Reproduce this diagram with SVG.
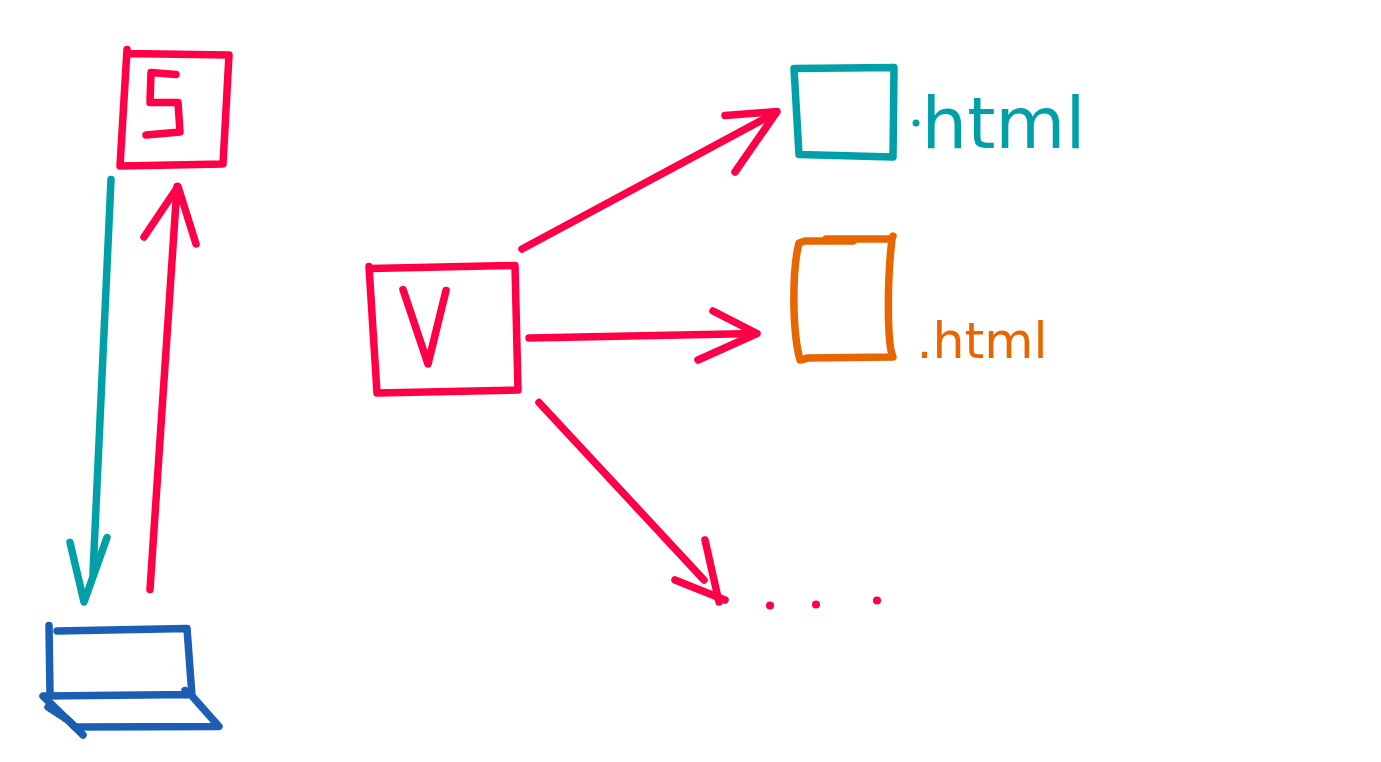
<svg xmlns="http://www.w3.org/2000/svg" width="1381" height="762" viewBox="0 0 1381 762">
<style>
path{fill:none;stroke-width:7.5;stroke-linecap:round;stroke-linejoin:round}
.r{stroke:#ff0048}
.t{stroke:#00a0a8}
.o{stroke:#e86500}
.b{stroke:#1b5eb4}
text{font-family:"DejaVu Sans",sans-serif}
</style>
<rect width="1381" height="762" fill="#fff"/>
<g id="connectors">
<path class="t" d="M111 179.500L93 573.500"/>
<path class="t" d="M70 542.500L84 602L107 537.500"/>
<path class="r" d="M150 589.500L177 186.500"/>
<path class="r" d="M144 237L178 186.500L196 244"/>
<path class="r" d="M522 249L776 112.500"/>
<path class="r" d="M725 115.500L777 111.500L735 172"/>
<path class="r" d="M529 338L756 333.500"/>
<path class="r" d="M713 311L757 333.500L698 360"/>
<path class="r" d="M539 402.500L704 580"/>
<path class="r" d="M705 540L719 602"/>
<path class="r" d="M675 580L725 600"/>
</g>
<g id="node-s">
<path class="r" d="M127 49.500L120 166L223 164L229 55L127 53.500"/>
<path class="r" d="M176 74.500L151 72.500L150 102.500L178 102.500L180 132L146 135"/>
</g>
<g id="node-v">
<path class="r" d="M369 266.500L377 393L518 390L515 265.500L370 268.500"/>
<path class="r" d="M403 289.500L428 364L446 290.500"/>
</g>
<g id="node-html-teal">
<path class="t" d="M794 68.500L799 154.500L893 157L894 67.500Z"/>
<circle cx="916" cy="123" r="3.500" fill="#00a0a8"/>
<text x="921.500" y="148" font-size="72" fill="#00a0a8">html</text>
</g>
<g id="node-html-orange">
<path class="o" d="M893 236L892 239L826 239M853 241L805 241L799 243C792 270 792 330 800 360L808 358L893 357C887 345 887 280 892 239"/>
<text x="916.500" y="358" font-size="50.500" fill="#e86500">.html</text>
</g>
<g id="node-dots">
<circle cx="770" cy="605.500" r="4" fill="#ff0048"/>
<circle cx="816" cy="604.500" r="4" fill="#ff0048"/>
<circle cx="877" cy="600.500" r="4" fill="#ff0048"/>
</g>
<g id="node-laptop">
<path class="b" d="M49 625.500L50 695"/>
<path class="b" d="M57 631L187 628.500L192 696L219 726.500L75 727L43 696L192 694.500"/>
<path class="b" d="M185 690.500L186 694.500"/>
<path class="b" d="M48 707L68 720L83 735"/>
</g>
</svg>
